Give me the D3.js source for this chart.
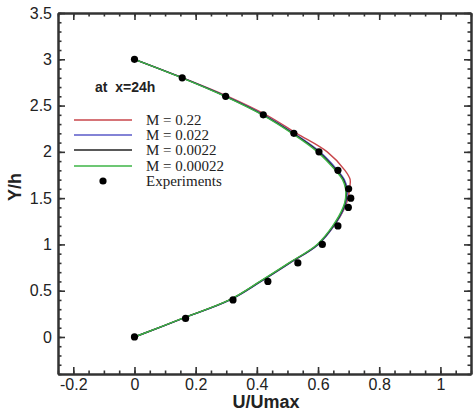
<!DOCTYPE html>
<html>
<head>
<meta charset="utf-8">
<script src="https://cdn.jsdelivr.net/npm/d3@7"></script>
<style>
  body { margin: 0; background: #fff; }
  .axis path, .axis line { stroke: #333; }
  .axis path { stroke-width: 2; }
  .axis line { stroke-width: 1.6; }
  .axis text { font-family: "Liberation Sans", Arial, sans-serif; font-size: 16px; fill: #222; }
  .legend text { font-family: "Liberation Serif", "Times New Roman", serif; font-size: 15px; fill: #222; }
</style>
</head>
<body>
<div id="chart"></div>
<script>
// y positions (Y/h) shared by the computed profiles
var yGrid = [0, 0.2, 0.4, 0.6, 0.8, 1.0, 1.2, 1.4, 1.5, 1.6, 1.7, 1.8, 2.0, 2.2, 2.4, 2.6, 2.8, 3.0];

var uM022     = [0, 0.157, 0.311, 0.412, 0.507, 0.600, 0.652, 0.688, 0.698, 0.703, 0.705, 0.688, 0.630, 0.530, 0.430, 0.305, 0.158, 0];
var uM0022    = [0, 0.158, 0.313, 0.414, 0.509, 0.601, 0.652, 0.686, 0.694, 0.695, 0.686, 0.664, 0.606, 0.521, 0.423, 0.300, 0.157, 0];
var uM00022   = [0, 0.157, 0.311, 0.412, 0.507, 0.599, 0.650, 0.684, 0.692, 0.692, 0.683, 0.660, 0.602, 0.518, 0.420, 0.298, 0.156, 0];
var uM000022  = [0, 0.156, 0.310, 0.410, 0.505, 0.597, 0.648, 0.682, 0.690, 0.690, 0.680, 0.657, 0.598, 0.515, 0.418, 0.296, 0.155, 0];

// experiments
var expY = [0, 0.2, 0.4, 0.6, 0.8, 1.0, 1.2, 1.4, 1.5, 1.6, 1.8, 2.0, 2.2, 2.4, 2.6, 2.8, 3.0];
var expU = [0, 0.167, 0.322, 0.436, 0.534, 0.614, 0.665, 0.699, 0.707, 0.700, 0.665, 0.603, 0.521, 0.421, 0.298, 0.156, 0];

var seriesNames = ['M = 0.22', 'M = 0.022', 'M = 0.0022', 'M = 0.00022'];
var seriesValues = [uM022, uM0022, uM00022, uM000022];
var seriesColors = ['#c8464b', '#5a5ac8', '#222222', '#3cb446'];

var xTicks = [-0.2, 0, 0.2, 0.4, 0.6, 0.8, 1];
var yTicks = [0, 0.5, 1, 1.5, 2, 2.5, 3, 3.5];

var width = 475, height = 414;
var margin = {top: 13, right: 4, bottom: 40, left: 58};
var chartWidth = width - margin.left - margin.right;
var chartHeight = height - margin.top - margin.bottom;

var svg = d3.select('#chart').append('svg')
    .attr('width', width)
    .attr('height', height);

var g = svg.append('g')
    .attr('transform', `translate(${margin.left}, ${margin.top})`);

var xScale = d3.scaleLinear().domain([-0.25, 1.1]).range([0, chartWidth]);
var yScale = d3.scaleLinear().domain([-0.4, 3.5]).range([chartHeight, 0]);

var xMinor = d3.range(-0.25, 1.1001, 0.05).map(d => +d.toFixed(2));
var yMinor = d3.range(-0.4, 3.5001, 0.1).map(d => +d.toFixed(1));

var plain = d => String(d); // hyphen minus, like the original

// minor ticks, all four sides
g.append('g').attr('class', 'axis').attr('transform', `translate(0, ${chartHeight})`)
    .call(d3.axisBottom(xScale).tickValues(xMinor).tickSize(-3.5).tickSizeOuter(0).tickFormat(''));
g.append('g').attr('class', 'axis')
    .call(d3.axisTop(xScale).tickValues(xMinor).tickSize(-3.5).tickSizeOuter(0).tickFormat(''));
g.append('g').attr('class', 'axis')
    .call(d3.axisLeft(yScale).tickValues(yMinor).tickSize(-3.5).tickSizeOuter(0).tickFormat(''));
g.append('g').attr('class', 'axis').attr('transform', `translate(${chartWidth}, 0)`)
    .call(d3.axisRight(yScale).tickValues(yMinor).tickSize(-3.5).tickSizeOuter(0).tickFormat(''));

// major ticks (inward), labels on bottom and left only
g.append('g').attr('class', 'axis').attr('transform', `translate(0, ${chartHeight})`)
    .call(d3.axisBottom(xScale).tickValues(xTicks).tickSize(-7).tickSizeOuter(0).tickPadding(5).tickFormat(plain));
g.append('g').attr('class', 'axis')
    .call(d3.axisTop(xScale).tickValues(xTicks).tickSize(-7).tickSizeOuter(0).tickFormat(''));
g.append('g').attr('class', 'axis')
    .call(d3.axisLeft(yScale).tickValues(yTicks).tickSize(-7).tickSizeOuter(0).tickPadding(6).tickFormat(plain));
g.append('g').attr('class', 'axis').attr('transform', `translate(${chartWidth}, 0)`)
    .call(d3.axisRight(yScale).tickValues(yTicks).tickSize(-7).tickSizeOuter(0).tickFormat(''));

// profiles
var line = d3.line()
    .x(d => xScale(d[0]))
    .y(d => yScale(d[1]))
    .curve(d3.curveCatmullRom.alpha(0.5));

seriesValues.forEach(function(vals, i) {
    g.append('path')
        .datum(vals.map((v, j) => [v, yGrid[j]]))
        .attr('fill', 'none')
        .attr('stroke', seriesColors[i])
        .attr('stroke-width', 1.4)
        .attr('d', line);
});

g.selectAll('.exp')
    .data(expU.map((u, j) => [u, expY[j]]))
    .enter()
    .append('circle')
    .attr('class', 'exp')
    .attr('cx', d => xScale(d[0]))
    .attr('cy', d => yScale(d[1]))
    .attr('r', 3.6)
    .attr('fill', '#000');

// axis titles
svg.append('text')
    .attr('x', margin.left + xScale(0.43))
    .attr('y', 408)
    .attr('text-anchor', 'middle')
    .style('font-family', '"Liberation Sans", Arial, sans-serif')
    .style('font-weight', 'bold')
    .style('font-size', '18px')
    .attr('fill', '#222')
    .text('U/Umax');

svg.append('text')
    .attr('transform', 'translate(21, 187) rotate(-90)')
    .attr('text-anchor', 'middle')
    .style('font-family', '"Liberation Sans", Arial, sans-serif')
    .style('font-weight', 'bold')
    .style('font-size', '18px')
    .attr('fill', '#222')
    .text('Y/h');

// legend
var legend = svg.append('g').attr('class', 'legend');

legend.append('text')
    .attr('x', 95)
    .attr('y', 92)
    .attr('xml:space', 'preserve')
    .style('font-family', '"Liberation Sans", Arial, sans-serif')
    .style('font-weight', 'bold')
    .style('font-size', '14px')
    .text('at  x=24h');

var rowY = [120, 135, 150, 166];
seriesNames.forEach(function(name, i) {
    legend.append('line')
        .attr('x1', 74).attr('x2', 132)
        .attr('y1', rowY[i]).attr('y2', rowY[i])
        .attr('stroke', seriesColors[i])
        .attr('stroke-width', 1.4);
    legend.append('text')
        .attr('x', 146)
        .attr('y', rowY[i] + 5)
        .text(name);
});

legend.append('circle')
    .attr('cx', 103).attr('cy', 181)
    .attr('r', 3.6)
    .attr('fill', '#000');
legend.append('text')
    .attr('x', 146)
    .attr('y', 186)
    .text('Experiments');
</script>
</body>
</html>
